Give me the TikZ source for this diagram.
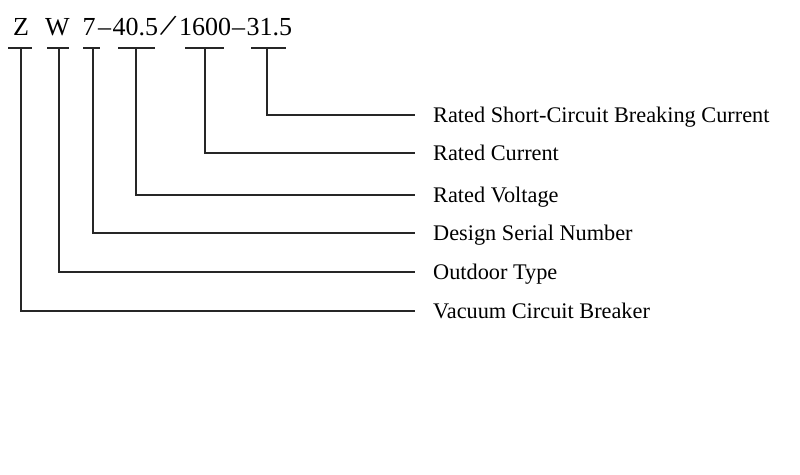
\documentclass[tikz,border=0pt]{standalone}
\usepackage{fontspec}
\setmainfont{Liberation Serif}
\begin{document}
\begin{tikzpicture}[x=1pt,y=-1pt,
  conn/.style={line width=1.2pt, draw=black!85},
  code/.style={font=\fontsize{26}{30}\selectfont, inner sep=0pt, anchor=base west},
  lab/.style={font=\fontsize{22.3}{26}\selectfont, anchor=west, inner xsep=18pt, inner ysep=0pt, text height=16pt, text depth=2pt}]
\useasboundingbox[fill=white] (0,0) rectangle (800,474);
% code string
\node[code] (cZ) at (13,35) {Z};
\node[code] (cW) at (45,35) {W};
\node[code] (c7) at (82.5,35) {7};
\node[code] (d1) at (98,35) {–};
\node[code] (c40) at (112.5,35) {40.5};
\node[code, anchor=center] (sl) at (168.5,26) {\rotatebox{-20}{\scalebox{1.3}{/}}};
\node[code] (c1600) at (179,35) {1600};
\node[code] (d2) at (232,35) {–};
\node[code] (c31) at (246.5,35) {31.5};
% bar centres
\coordinate (bZ) at (21,48);
\coordinate (bW) at (59,48);
\coordinate (b7) at (93,48);
\coordinate (b40) at (136,48);
\coordinate (b1600) at (205,48);
\coordinate (b31) at (267,48);
% line ends
\coordinate (e31) at (415,115);
\coordinate (e1600) at (415,153);
\coordinate (e40) at (415,195);
\coordinate (e7) at (415,233);
\coordinate (eW) at (415,272);
\coordinate (eZ) at (415,311);
% labels
\node[lab] (l31) at (e31) {Rated Short-Circuit Breaking Current};
\node[lab] (l1600) at (e1600) {Rated Current};
\node[lab] (l40) at (e40) {Rated Voltage};
\node[lab] (l7) at (e7) {Design Serial Number};
\node[lab] (lW) at (eW) {Outdoor Type};
\node[lab] (lZ) at (eZ) {Vacuum Circuit Breaker};
% bars
\draw[conn] ([xshift=-13pt]bZ) -- ([xshift=11pt]bZ);
\draw[conn] ([xshift=-12pt]bW) -- ([xshift=10pt]bW);
\draw[conn] ([xshift=-10pt]b7) -- ([xshift=7pt]b7);
\draw[conn] ([xshift=-18pt]b40) -- ([xshift=19pt]b40);
\draw[conn] ([xshift=-20pt]b1600) -- ([xshift=19pt]b1600);
\draw[conn] ([xshift=-16pt]b31) -- ([xshift=19pt]b31);
% connectors
\draw[conn] (b31) |- (l31.west);
\draw[conn] (b1600) |- (l1600.west);
\draw[conn] (b40) |- (l40.west);
\draw[conn] (b7) |- (l7.west);
\draw[conn] (bW) |- (lW.west);
\draw[conn] (bZ) |- (lZ.west);
\end{tikzpicture}
\end{document}
